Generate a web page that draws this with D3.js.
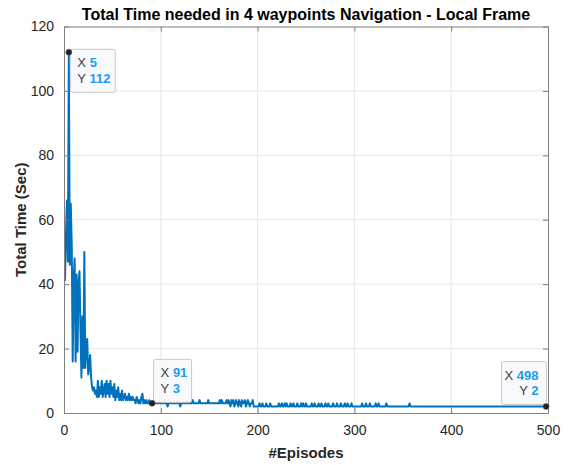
<!DOCTYPE html>
<html>
<head>
<meta charset="utf-8">
<script src="https://cdn.jsdelivr.net/npm/d3@7"></script>
<style>
  body { margin: 0; background: #fff; }
  svg { font-family: "Liberation Sans", Arial, sans-serif; }
</style>
</head>
<body>
<div id="chart-area"></div>
<script>
// Total time per episode (episodes 1..500)
var totalTime = [
  41,55,66,47,112,46,65,52,16,42, 48,16,43,19,40,44,26,11,30,14,
  50,14,20,23,12,14,18,11,8,7, 8,6,7,5,10,5,8,6,10,5,
  7,9,5,10,6,9,5,10,6,8, 5,9,4,7,5,8,4,6,4,7,
  4,5,6,4,5,4,6,4,5,4, 5,4,4,3,5,4,3,4,3,5,
  6,3,4,3,4,3,3,4,3,3, 3,3,4,3,3,3,3,4,3,3,
  3,3,3,4,3,3,2,3,3,4, 3,3,3,3,3,3,3,4,3,2,
  3,3,3,3,3,3,4,3,3,3, 3,3,4,3,3,3,3,3,3,4,
  3,3,3,3,3,3,3,3,4,3, 3,3,3,3,3,3,3,3,3,3,
  4,3,4,3,3,3,3,4,3,4, 3,2,4,3,4,2,3,4,3,2,
  4,3,2,4,3,3,4,2,3,4, 3,2,3,3,4,2,2,2,2,2,
  2,3,2,2,3,2,2,2,3,2, 2,2,3,2,2,2,2,2,2,2,
  2,3,2,2,3,2,2,3,2,3, 2,2,2,3,2,2,3,2,2,2,
  3,2,2,2,3,2,3,2,2,3, 2,2,2,2,2,3,2,2,3,2,
  2,2,3,2,2,3,2,2,2,3, 2,2,3,2,2,2,2,3,2,2,
  2,3,2,2,2,3,2,2,2,3, 2,2,3,2,2,2,3,2,2,2,
  2,2,2,2,2,2,2,3,2,2, 2,3,2,2,2,3,2,2,2,2,
  2,3,2,2,3,2,2,2,2,2, 2,2,3,2,2,2,2,2,2,2,
  2,2,2,2,2,2,2,2,2,2, 2,2,2,2,2,2,3,2,2,2,
  2,2,2,2,2,2,2,2,2,2, 2,2,2,2,2,2,2,2,2,2,
  2,2,2,2,2,2,2,2,2,2, 2,2,2,2,2,2,2,2,2,2,
  2,2,2,2,2,2,2,2,2,2, 2,2,2,2,2,2,2,2,2,2,
  2,2,2,2,2,2,2,2,2,2, 2,2,2,2,2,2,2,2,2,2,
  2,2,2,2,2,2,2,2,2,2, 2,2,2,2,2,2,2,2,2,2,
  2,2,2,2,2,2,2,2,2,2, 2,2,2,2,2,2,2,2,2,2,
  2,2,2,2,2,2,2,2,2,2, 2,2,2,2,2,2,2,2,2,2
];
var episodes = totalTime.map(function(d, i){ return i + 1; });

var xTicks = [0, 100, 200, 300, 400, 500];
var yTicks = [0, 20, 40, 60, 80, 100, 120];

// data tips shown on the plot: [episode, value]
var dataTips = [[5, 112], [91, 3], [498, 2]];

var margin = { left: 64, right: 23, top: 26.5, bottom: 52 };
var width = 571 - margin.left - margin.right,
    height = 465 - margin.top - margin.bottom;

var svg = d3.select("#chart-area").append("svg")
    .attr("width", 571)
    .attr("height", 465);

var g = svg.append("g")
    .attr("transform", "translate(" + margin.left + "," + margin.top + ")");

var x = d3.scaleLinear().domain([0, 500]).range([0, width]);
var y = d3.scaleLinear().domain([0, 120]).range([height, 0]);

// Grid
g.append("g").selectAll("line")
    .data(xTicks.slice(1, -1))
    .enter().append("line")
    .attr("x1", function(d){ return x(d); })
    .attr("x2", function(d){ return x(d); })
    .attr("y1", 0).attr("y2", height)
    .attr("stroke", "#e6e6e6");
g.append("g").selectAll("line")
    .data(yTicks.slice(1, -1))
    .enter().append("line")
    .attr("y1", function(d){ return y(d); })
    .attr("y2", function(d){ return y(d); })
    .attr("x1", 0).attr("x2", width)
    .attr("stroke", "#e6e6e6");

// Line
var line = d3.line()
    .x(function(d, i){ return x(episodes[i]); })
    .y(function(d){ return y(d); });

g.append("path")
    .datum(totalTime)
    .attr("fill", "none")
    .attr("stroke", "#0072BD")
    .attr("stroke-width", 2)
    .attr("stroke-linejoin", "round")
    .attr("d", line);

// Axes (MATLAB style: ticks inside, box on)
var axisColor = "#262626";
var xAxisCall = d3.axisBottom(x).tickValues(xTicks).tickSizeInner(-5).tickSizeOuter(0).tickPadding(12);
var xAxis = g.append("g")
    .attr("class", "x axis")
    .attr("transform", "translate(0," + height + ")")
    .call(xAxisCall);
var yAxisCall = d3.axisLeft(y).tickValues(yTicks).tickSizeInner(-5).tickSizeOuter(0).tickPadding(10);
var yAxis = g.append("g")
    .attr("class", "y axis")
    .call(yAxisCall);

// Top and right edges with ticks
var xTop = g.append("g").call(d3.axisTop(x).tickValues(xTicks).tickSizeInner(-5).tickSizeOuter(0).tickFormat(""));
var yRight = g.append("g")
    .attr("transform", "translate(" + width + ",0)")
    .call(d3.axisRight(y).tickValues(yTicks).tickSizeInner(-5).tickSizeOuter(0).tickFormat(""));

[xAxis, yAxis, xTop, yRight].forEach(function(a){
    a.select(".domain").attr("stroke", "#7f7f7f");
    a.selectAll(".tick line").attr("stroke", "#7f7f7f");
    a.selectAll(".tick text")
        .attr("fill", axisColor)
        .attr("font-size", "14px")
        .attr("font-family", "Liberation Sans, Arial, sans-serif");
});

// Data tips
var tips = g.append("g");
dataTips.forEach(function(t, i){
    var px = x(t[0]), py = y(t[1]);
    var right = i === 2;
    var bx, by, bw, bh = 43;
    if (i === 0) { bx = px + 1.5; by = py - 3; bw = 45; }
    else if (i === 1) { bx = px + 1.5; by = py - 44; bw = 38; }
    else { bx = px - 44.5; by = py - 45; bw = 45; }
    tips.append("rect")
        .attr("x", bx).attr("y", by)
        .attr("width", bw).attr("height", bh)
        .attr("rx", 2)
        .attr("fill", "#f8f9fc")
        .attr("fill-opacity", 0.95)
        .attr("stroke", "#c8c8c8");
    var tx = right ? bx + bw - 8 : bx + 7;
    var lines = [["X ", t[0]], ["Y ", t[1]]];
    lines.forEach(function(l, k){
        var txt = tips.append("text")
            .attr("x", tx)
            .attr("y", by + 18 + k * 15.5)
            .attr("font-size", "13px")
            .attr("text-anchor", right ? "end" : "start");
        txt.append("tspan").attr("fill", "#404040").text(l[0]);
        txt.append("tspan").attr("fill", "#1f9bf0").attr("font-weight", "bold").text(l[1]);
    });
    tips.append("circle")
        .attr("cx", px).attr("cy", py).attr("r", 3)
        .attr("fill", "#222").attr("stroke", "#555").attr("stroke-width", 0.5);
});

// Title
svg.append("text")
    .attr("x", 306)
    .attr("y", 20)
    .attr("text-anchor", "middle")
    .attr("font-size", "16px")
    .attr("font-weight", "bold")
    .attr("fill", "#000")
    .text("Total Time needed in 4 waypoints Navigation - Local Frame");

// X Label
svg.append("text")
    .attr("x", margin.left + width / 2)
    .attr("y", 458)
    .attr("text-anchor", "middle")
    .attr("font-size", "15px")
    .attr("font-weight", "bold")
    .attr("fill", axisColor)
    .text("#Episodes");

// Y Label
svg.append("text")
    .attr("transform", "rotate(-90)")
    .attr("x", -(margin.top + height / 2))
    .attr("y", 26)
    .attr("text-anchor", "middle")
    .attr("font-size", "15px")
    .attr("font-weight", "bold")
    .attr("fill", axisColor)
    .text("Total Time (Sec)");
</script>
</body>
</html>
